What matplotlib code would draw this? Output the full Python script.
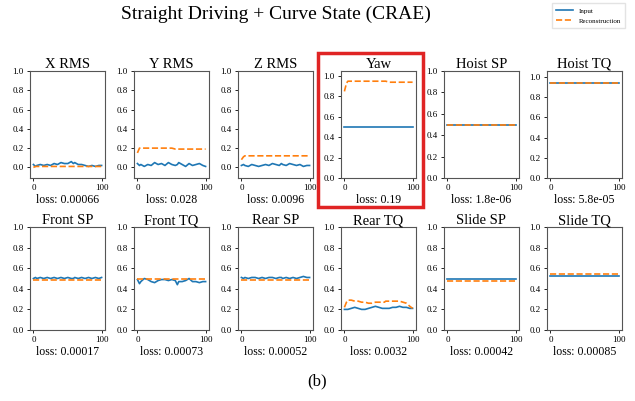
import numpy as np
import matplotlib
matplotlib.use("Agg")
import matplotlib.pyplot as plt
from matplotlib.patches import Rectangle

plt.rcParams['font.family'] = ['Liberation Serif', 'DejaVu Serif']

# sample positions (time steps)
x = [0, 3, 5, 10, 15, 20, 25, 30, 35, 40, 45, 50, 55, 58, 60, 65, 70, 75, 80, 85, 90, 95, 99]

names = ["X RMS", "Y RMS", "Z RMS", "Yaw", "Hoist SP", "Hoist TQ",
         "Front SP", "Front TQ", "Rear SP", "Rear TQ", "Slide SP", "Slide TQ"]
losses = ["0.00066", "0.028", "0.0096", "0.19", "1.8e-06", "5.8e-05",
          "0.00017", "0.00073", "0.00052", "0.0032", "0.00042", "0.00085"]

inputs = [
    [0.03, 0.01, 0.02, 0.03, 0.02, 0.03, 0.02, 0.04, 0.03, 0.05, 0.04, 0.04, 0.06, 0.04, 0.05, 0.03, 0.03, 0.02, 0.01, 0.02, 0.01, 0.02, 0.02],
    [0.04, 0.02, 0.03, 0.01, 0.03, 0.02, 0.05, 0.03, 0.04, 0.02, 0.05, 0.03, 0.02, 0.03, 0.05, 0.03, 0.01, 0.04, 0.02, 0.03, 0.04, 0.02, 0.01],
    [0.02, 0.03, 0.02, 0.01, 0.03, 0.02, 0.01, 0.02, 0.03, 0.02, 0.04, 0.03, 0.02, 0.04, 0.03, 0.02, 0.04, 0.03, 0.02, 0.03, 0.01, 0.02, 0.02],
    [0.50] * 23,
    [0.50] * 23,
    [0.94] * 23,
    [0.50, 0.51, 0.50, 0.51, 0.50, 0.51, 0.50, 0.51, 0.50, 0.51, 0.50, 0.51, 0.50, 0.50, 0.51, 0.50, 0.51, 0.50, 0.51, 0.50, 0.51, 0.50, 0.51],
    [0.49, 0.45, 0.47, 0.50, 0.49, 0.47, 0.46, 0.48, 0.49, 0.49, 0.48, 0.49, 0.48, 0.44, 0.47, 0.47, 0.48, 0.50, 0.47, 0.47, 0.46, 0.47, 0.47],
    [0.51, 0.50, 0.51, 0.50, 0.51, 0.51, 0.50, 0.51, 0.50, 0.51, 0.51, 0.50, 0.51, 0.51, 0.50, 0.51, 0.50, 0.51, 0.50, 0.51, 0.52, 0.51, 0.51],
    [0.20, 0.20, 0.20, 0.21, 0.22, 0.21, 0.20, 0.20, 0.21, 0.22, 0.23, 0.22, 0.21, 0.21, 0.21, 0.21, 0.22, 0.22, 0.23, 0.22, 0.22, 0.21, 0.21],
    [0.50] * 23,
    [0.52] * 23,
]

recons = [
    [0.00, 0.01, 0.01, 0.01, 0.01, 0.01, 0.01, 0.01, 0.01, 0.01, 0.01, 0.01, 0.01, 0.01, 0.01, 0.01, 0.01, 0.01, 0.01, 0.01, 0.01, 0.01, 0.01],
    [0.15, 0.20, 0.20, 0.20, 0.20, 0.20, 0.20, 0.20, 0.20, 0.20, 0.20, 0.20, 0.19, 0.19, 0.19, 0.19, 0.19, 0.19, 0.19, 0.19, 0.19, 0.19, 0.19],
    [0.08, 0.11, 0.12, 0.12, 0.12, 0.12, 0.12, 0.12, 0.12, 0.12, 0.12, 0.12, 0.12, 0.12, 0.12, 0.12, 0.12, 0.12, 0.12, 0.12, 0.12, 0.12, 0.12],
    [0.85, 0.93, 0.95, 0.95, 0.95, 0.95, 0.95, 0.95, 0.95, 0.95, 0.95, 0.95, 0.95, 0.95, 0.95, 0.94, 0.94, 0.94, 0.94, 0.94, 0.94, 0.94, 0.94],
    [0.50] * 23,
    [0.945] * 23,
    [0.49] * 23,
    [0.50] * 23,
    [0.49] * 23,
    [0.22, 0.27, 0.29, 0.29, 0.28, 0.28, 0.27, 0.27, 0.26, 0.26, 0.27, 0.27, 0.27, 0.27, 0.28, 0.28, 0.28, 0.28, 0.28, 0.27, 0.26, 0.23, 0.21],
    [0.48] * 23,
    [0.545] * 23,
]

ylims = [(-0.11, 1.0), (-0.11, 1.0), (-0.11, 1.0), (0, 1.05), (0, 1.0), (0, 1.06),
         (0, 1.0), (0, 1.0), (0, 1.0), (0, 1.0), (0, 1.0), (0, 1.0)]

W, H = 635, 401
fig = plt.figure(figsize=(W / 100, H / 100), dpi=100)

lefts = [30, 134, 238, 341, 444, 547]
rows = [(71, 178), (227, 330)]
aw = 75

for i, name in enumerate(names):
    r, c = divmod(i, 6)
    top, bot = rows[r]
    ax = fig.add_axes([lefts[c] / W, 1 - bot / H, aw / W, (bot - top) / H])
    l1, = ax.plot(x, inputs[i], color='#1f77b4', lw=1.2, label='Input')
    l2, = ax.plot(x, recons[i], color='#ff7f0e', lw=1.2, ls='--', label='Reconstruction')
    ax.set_ylim(*ylims[i])
    ax.set_xticks([0, 100])
    ax.set_yticks([0, 0.2, 0.4, 0.6, 0.8, 1.0])
    ax.tick_params(labelsize=6.5, length=2.5, width=0.6, pad=2)
    for s in ax.spines.values():
        s.set_color('#555555')
        s.set_linewidth(0.8)
    ax.set_title(name, fontsize=10.5, pad=2)
    ax.set_xlabel('loss: ' + losses[i], fontsize=8.5, labelpad=1)

fig.text(0.435, 0.965, 'Straight Driving + Curve State (CRAE)', ha='center', va='center', fontsize=14)
fig.legend([l1, l2], ['Input', 'Reconstruction'], loc='upper right', bbox_to_anchor=(0.99, 1.0),
           fontsize=5, frameon=True, handlelength=2.5, borderpad=0.6, labelspacing=0.6,
           edgecolor='#dddddd', fancybox=False)

fig.patches.append(Rectangle((318 / W, 1 - 207 / H), 105 / W, 154 / H, transform=fig.transFigure,
                             fill=False, edgecolor='#e02424', lw=2.5))

fig.text(0.5, 1 - 381 / H, '(b)', ha='center', va='center', fontsize=12)

fig.savefig('out.png', dpi=100)
